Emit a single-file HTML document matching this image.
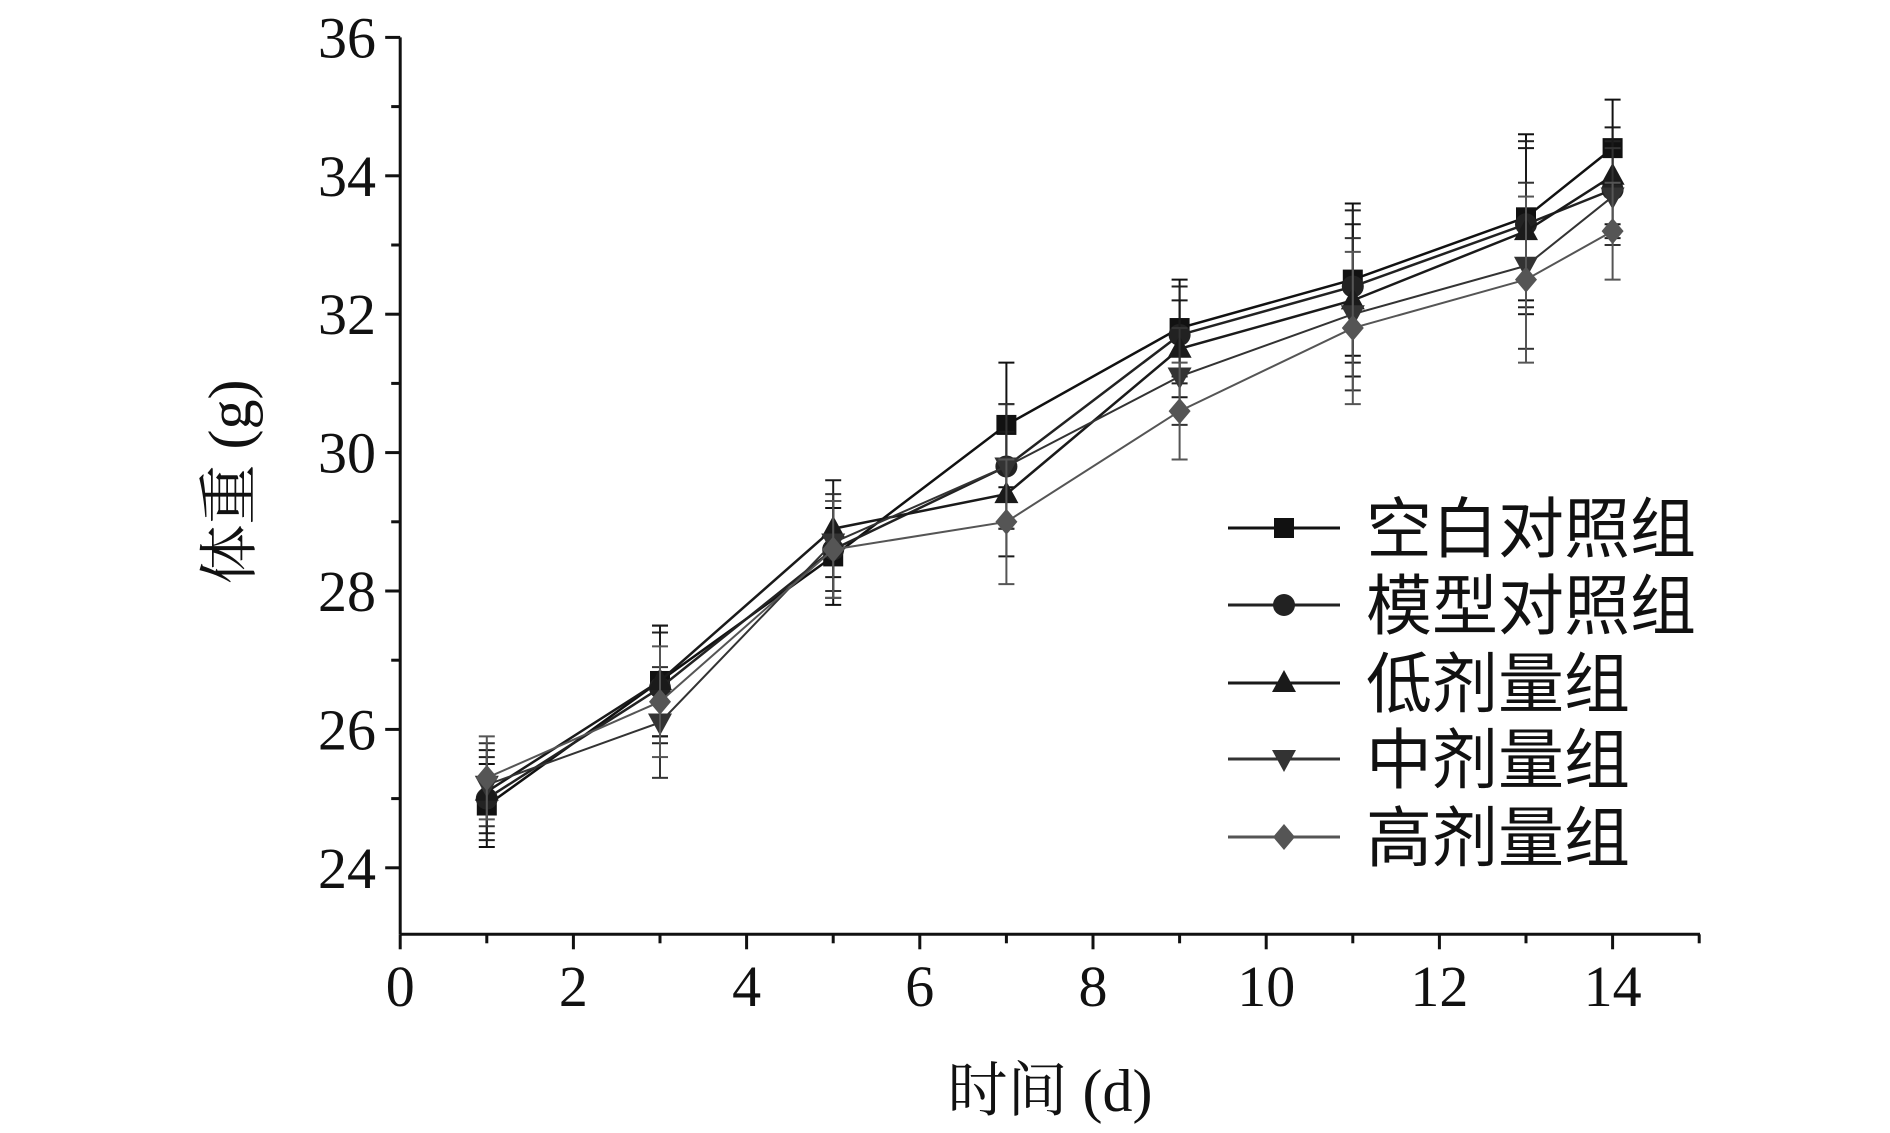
<!DOCTYPE html>
<html><head><meta charset="utf-8"><style>
body{margin:0;background:#fff;}
svg text{font-family:"Liberation Serif","Noto Serif CJK SC",serif;fill:#111;}
</style></head><body>
<svg id="c" width="1890" height="1128" xmlns="http://www.w3.org/2000/svg"></svg>
<script>
const days=[1,3,5,7,9,11,13,14];
const seriesNames=["空白对照组","模型对照组","低剂量组","中剂量组","高剂量组"];
const s0=[24.9,26.7,28.5,30.4,31.8,32.5,33.4,34.4];
const s1=[25.0,26.6,28.6,29.8,31.7,32.4,33.3,33.8];
const s2=[25.1,26.7,28.9,29.4,31.5,32.2,33.2,34.0];
const s3=[25.2,26.1,28.7,29.8,31.1,32.0,32.7,33.7];
const s4=[25.3,26.4,28.6,29.0,30.6,31.8,32.5,33.2];
const errs=[0.6,0.8,0.7,0.9,0.7,1.1,1.2,0.7];
const xTicks=[0,2,4,6,8,10,12,14];
const yTicks=[24,26,28,30,32,34,36];
const NS="http://www.w3.org/2000/svg";
const svg=document.getElementById('c');
const X0=400.2,XU=86.6,Y36=37.4,YU=69.2,AXY=934.3,AXR=1700;
const sx=v=>X0+v*XU, sy=v=>Y36+(36-v)*YU;
function mk(t,a,p){const e=document.createElementNS(NS,t);for(const k in a)e.setAttribute(k,a[k]);(p||svg).appendChild(e);return e;}
const ax=mk('g',{});


mk('line',{x1:X0,y1:Y36,x2:X0,y2:AXY,stroke:'#111','stroke-width':3},ax);
mk('line',{x1:X0,y1:AXY,x2:AXR,y2:AXY,stroke:'#111','stroke-width':3},ax);
for(let v=24;v<=36;v++){const maj=v%2==0;mk('line',{x1:X0-(maj?15:9),x2:X0,y1:sy(v),y2:sy(v),stroke:'#111','stroke-width':3},ax);}
for(let v=0;v<=15;v++){const maj=v%2==0;mk('line',{x1:sx(v),x2:sx(v),y1:AXY,y2:AXY+(maj?15:9),stroke:'#111','stroke-width':3},ax);}
yTicks.forEach(v=>{const t=mk('text',{x:376,y:sy(v)+20,'text-anchor':'end','font-size':58},ax);t.textContent=v;
});
xTicks.forEach(v=>{const t=mk('text',{x:sx(v),y:1006,'text-anchor':'middle','font-size':58},ax);t.textContent=v;
});
const xt=mk('text',{x:1050,y:1111,'text-anchor':'middle','font-size':60});xt.textContent='时间 (d)';

const yt=mk('text',{x:0,y:0,'text-anchor':'middle','font-size':60,transform:'translate(250,482) rotate(-90)'});yt.textContent='体重 (g)';

const all=[s0,s1,s2,s3,s4];
const cols=['#111','#222','#1a1a1a','#333','#555'];
const lw=[2.5,2.5,2.5,2,2];
function marker(k,x,y,g,c){
 if(k==0)mk('rect',{x:x-10,y:y-10,width:20,height:20,fill:c},g);
 else if(k==1)mk('circle',{cx:x,cy:y,r:11,fill:c},g);
 else if(k==2)mk('polygon',{points:`${x},${y-13} ${x-12},${y+9} ${x+12},${y+9}`,fill:c},g);
 else if(k==3)mk('polygon',{points:`${x},${y+13} ${x-12},${y-9} ${x+12},${y-9}`,fill:c},g);
 else mk('polygon',{points:`${x},${y-13} ${x+11},${y} ${x},${y+13} ${x-11},${y}`,fill:c},g);
}
all.forEach((s,k)=>{
 const g=mk('g',{});
 
 
 s.forEach((v,i)=>{const x=sx(days[i]);const e=errs[i];
  mk('line',{x1:x,x2:x,y1:sy(v-e),y2:sy(v+e),stroke:cols[k],'stroke-width':2},g);
  [v-e,v+e].forEach(w=>mk('line',{x1:x-8,x2:x+8,y1:sy(w),y2:sy(w),stroke:cols[k],'stroke-width':2},g));});
 mk('polyline',{points:s.map((v,i)=>sx(days[i])+','+sy(v)).join(' '),fill:'none',stroke:cols[k],'stroke-width':lw[k]},g);
 s.forEach((v,i)=>marker(k,sx(days[i]),sy(v),g,cols[k]));
});
const lg=mk('g',{});


const ly=[528,605,683,759,837];
seriesNames.forEach((n,k)=>{
 const e=mk('g',{},lg);
 
 
 mk('line',{x1:1228,x2:1340,y1:ly[k],y2:ly[k],stroke:cols[k],'stroke-width':3},e);
 marker(k,1284,ly[k],e,cols[k]);
 const t=mk('text',{x:1366,y:ly[k]+24,'font-size':66,style:'font-family:"Liberation Sans","Noto Sans CJK SC",sans-serif'},e);t.textContent=n;
});
</script>
</body></html>
